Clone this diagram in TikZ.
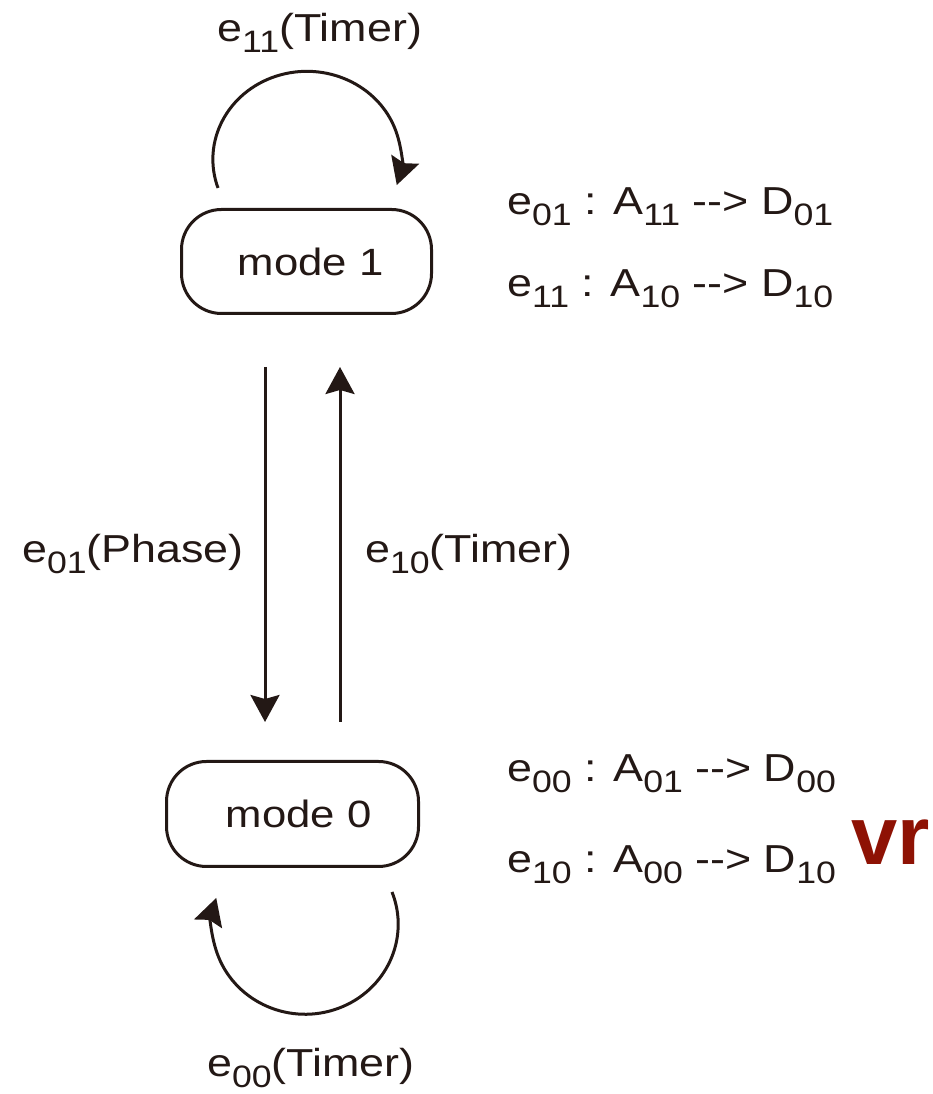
\documentclass[tikz,border=0pt]{standalone}
\usepackage{fontspec}
\setmainfont[FakeStretch=1.15]{Liberation Sans}
\newfontfamily\vrfont{Liberation Sans}
\usetikzlibrary{arrows.meta}
\definecolor{ink}{RGB}{35,24,21}
\definecolor{vrred}{RGB}{142,18,4}
% lowered subscript digits used in the edge labels
\newcommand\idx[1]{\raisebox{-0.26em}{\fontsize{31}{31}\selectfont #1}}
\begin{document}
\begin{tikzpicture}[x=1pt,y=1pt,
    ink line/.style={draw=ink, line width=3pt},
    arr/.style={ink line, -{Stealth[length=27pt,width=29pt,inset=4pt]}},
    modebox/.style={ink line, rounded corners=40pt, text=ink,
      font=\fontsize{38}{38}\selectfont, inner sep=0pt},
    lbl/.style={anchor=base west, inner sep=0pt, text=ink,
      font=\fontsize{39}{39}\selectfont}]
  \useasboundingbox (0,0) rectangle (933,1094);

  % states
  \node[modebox, minimum width=250pt, minimum height=104pt] (m1) at (306.5,832.5) {\hspace*{8pt}mode 1};
  \node[modebox, minimum width=252pt, minimum height=105pt] (m0) at (292.5,280) {\hspace*{12pt}mode 0};

  % transitions between the two modes
  \draw[arr] ([xshift=-41.5pt,yshift=-52pt]m1.south) -- ([xshift=-27.5pt,yshift=38pt]m0.north);
  \draw[arr] ([xshift=47.5pt,yshift=38pt]m0.north) -- ([xshift=33.5pt,yshift=-52pt]m1.south);

  % self loops
  \draw[arr] ([xshift=-88.5pt,yshift=20pt]m1.north)
    arc[start angle=199, end angle=-17, x radius=94, y radius=88];
  \draw[arr] ([xshift=99.5pt,yshift=-24pt]m0.south)
    arc[start angle=21, end angle=-197, x radius=93, y radius=90];

  % edge labels
  \node[lbl] (l11) at (217,1052) {e\idx{11}(Timer)};
  \node[lbl] (l01) at (22,531) {e\idx{01}(Phase)};
  \node[lbl] (l10) at (365,531) {e\idx{10}(Timer)};
  \node[lbl] (l00) at (207,17) {e\idx{00}(Timer)};

  % actions attached to the events
  \node[lbl] (a1) at (507,879) {e\idx{01} : A\idx{11} -{}-> D\idx{01}};
  \node[lbl] (a2) at (507,797) {e\idx{11} : A\idx{10} -{}-> D\idx{10}};
  \node[lbl] (a3) at (507,312) {e\idx{00} : A\idx{01} -{}-> D\idx{00}};
  \node[lbl] (a4) at (507,221) {e\idx{10} : A\idx{00} -{}-> D\idx{10}};

  \node[anchor=base west, inner sep=0pt, text=vrred,
    font=\vrfont\bfseries\fontsize{83}{83}\selectfont] (vr) at (851,229) {vr};
\end{tikzpicture}
\end{document}
